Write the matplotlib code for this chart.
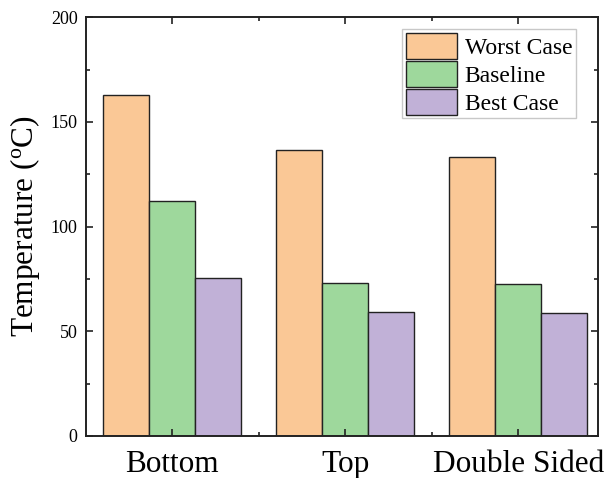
import matplotlib
matplotlib.use("Agg")
import matplotlib.pyplot as plt
import numpy as np
from matplotlib.ticker import MultipleLocator, FixedLocator

plt.rcParams['font.family'] = ['Liberation Serif', 'DejaVu Serif']
plt.rcParams['mathtext.fontset'] = 'custom'
plt.rcParams['mathtext.rm'] = 'Liberation Serif'

categories = ["Bottom", "Top", "Double Sided"]
series_names = ["Worst Case", "Baseline", "Best Case"]
worst = [162.7, 136.4, 133.4]
baseline = [112.4, 72.9, 72.6]
best = [75.3, 59.2, 58.9]
colors = ["#FAC896", "#9ED89C", "#C1B1D7"]

fig = plt.figure(figsize=(6.05, 4.78), dpi=100)
ax = fig.add_axes([0.142, 0.088, 0.846, 0.876])

x = np.arange(1, len(categories) + 1)
w = 0.266
for i, (vals, name, c) in enumerate(zip([worst, baseline, best], series_names, colors)):
    ax.bar(x + (i - 1) * w, vals, width=w, color=c, edgecolor="#222222",
           linewidth=1.0, label=name)

ax.set_xlim(0.5, 3.46)
ax.set_ylim(0, 200)
ax.set_xticks(x)
ax.set_xticklabels(categories, fontsize=22.5)
ax.xaxis.set_minor_locator(FixedLocator([1.5, 2.5]))
ax.yaxis.set_major_locator(MultipleLocator(50))
ax.yaxis.set_minor_locator(MultipleLocator(25))
ax.tick_params(axis='both', which='both', direction='in', top=True, right=True,
               width=1.2, color='#222222')
ax.tick_params(axis='both', which='major', length=5)
ax.tick_params(axis='both', which='minor', length=3)
ax.tick_params(axis='y', labelsize=13, pad=6)
ax.tick_params(axis='x', pad=10)
for s in ax.spines.values():
    s.set_linewidth(1.4)
    s.set_color('#222222')

ax.set_ylabel("Temperature ($\\mathregular{^{o}}$C)", fontsize=22.5, labelpad=6)

leg = ax.legend(loc='upper right', bbox_to_anchor=(0.957, 0.971), fontsize=17,
                frameon=True, fancybox=False, edgecolor='#bbbbbb',
                handlelength=2.2, handleheight=1.3, labelspacing=0.1,
                handletextpad=0.3, borderpad=0.15, borderaxespad=0.0)
leg.get_frame().set_linewidth(1.0)

fig.savefig("out.png", dpi=100)
